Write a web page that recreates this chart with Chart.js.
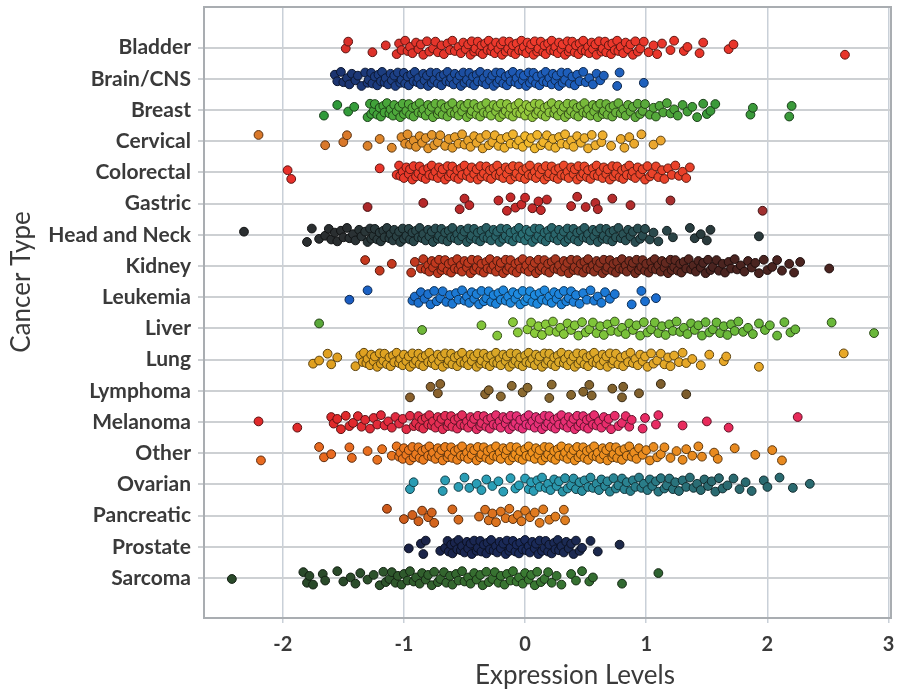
<!DOCTYPE html>
<html>
<head>
<meta charset="utf-8">
<script src="https://cdn.jsdelivr.net/npm/chart.js@4.4.0/dist/chart.umd.min.js"></script>
<style>
  html, body { margin: 0; padding: 0; background: #fff; }
</style>
</head>
<body>
<canvas id="graph" width="899" height="691"></canvas>
<script>
// categories, top to bottom
var categories = ['Bladder', 'Brain/CNS', 'Breast', 'Cervical', 'Colorectal', 'Gastric',
  'Head and Neck', 'Kidney', 'Leukemia', 'Liver', 'Lung', 'Lymphoma', 'Melanoma',
  'Other', 'Ovarian', 'Pancreatic', 'Prostate', 'Sarcoma'];

var xTicks = [-2, -1, 0, 1, 2, 3];

// expression levels, one list per cancer type
var bladder = [-1.48,-1.46,-1.26,-1.15,
  -1.06,-1.04,-1.02,-0.99,-0.97,-0.95,-0.93,-0.9,-0.88,-0.86,-0.84,-0.81,-0.79,-0.76,-0.74,-0.72,-0.69,-0.67,-0.64,-0.62,-0.6,-0.58,-0.55,-0.53,-0.51,-0.49,-0.47,
  -0.45,-0.44,-0.42,-0.41,-0.39,-0.37,-0.36,-0.35,-0.33,-0.31,-0.3,-0.28,-0.27,-0.25,-0.24,-0.22,-0.2,-0.19,-0.18,-0.16,-0.14,-0.13,-0.11,-0.1,-0.08,-0.07,-0.05,-0.03,-0.02,-0.01,0.01,0.02,0.04,0.05,0.07,0.08,0.1,0.11,0.13,0.15,0.16,0.17,0.19,0.21,0.22,0.24,0.25,0.27,0.28,0.3,0.31,0.33,0.35,0.36,0.37,0.39,0.41,0.42,0.44,0.45,0.47,0.48,0.5,0.52,0.53,0.55,0.56,0.58,0.59,0.61,0.63,0.64,0.66,0.67,0.69,0.71,0.72,0.74,0.76,0.77,0.79,0.81,0.83,0.85,0.87,0.89,0.91,
  0.93,0.95,0.98,1.02,1.06,1.09,1.13,1.2,1.23,1.31,1.34,1.44,1.47,1.68,1.72,2.64];
var brainCns = [-1.57,-1.55,-1.52,-1.5,-1.47,-1.45,-1.43,-1.4,-1.38,-1.35,
  -1.32,-1.3,-1.29,-1.27,-1.26,-1.24,-1.22,-1.21,-1.19,-1.18,-1.16,-1.15,-1.13,-1.11,-1.1,-1.08,-1.07,-1.05,-1.03,-1.02,-1.0,-0.99,-0.97,-0.96,-0.94,-0.92,-0.91,-0.89,-0.88,-0.86,-0.84,-0.83,-0.81,-0.8,-0.78,-0.77,-0.75,-0.73,-0.72,-0.7,-0.69,-0.67,-0.65,-0.64,-0.62,-0.61,-0.59,-0.58,-0.56,-0.54,-0.53,-0.51,-0.5,-0.48,-0.46,-0.45,-0.43,-0.42,-0.4,-0.39,-0.37,-0.35,-0.34,-0.32,-0.31,-0.29,-0.27,-0.26,-0.24,-0.23,-0.21,-0.2,-0.18,-0.16,-0.15,-0.13,-0.12,-0.1,-0.08,-0.07,-0.05,-0.04,-0.02,-0.01,0.01,0.03,0.04,0.06,0.07,0.09,0.1,0.12,0.14,0.15,0.17,0.18,0.2,0.22,0.23,0.25,0.26,0.28,0.3,0.31,0.33,0.35,0.37,0.39,0.41,0.43,0.45,0.48,0.5,0.53,0.56,0.59,0.62,
  0.65,0.76,0.78,0.98];
var breast = [-1.66,-1.55,-1.46,-1.41,
  -1.3,-1.28,-1.27,-1.25,-1.24,-1.22,-1.2,-1.19,-1.17,-1.16,-1.14,-1.12,-1.11,-1.09,-1.08,-1.06,-1.04,-1.03,-1.01,-1.0,-0.98,-0.96,-0.95,-0.93,-0.92,-0.9,-0.88,-0.87,-0.85,-0.84,-0.82,-0.8,-0.79,-0.77,-0.76,-0.74,-0.72,-0.71,-0.69,-0.68,-0.66,-0.64,-0.63,-0.61,-0.6,-0.58,-0.56,-0.55,-0.53,-0.52,-0.5,-0.48,-0.47,-0.45,-0.44,-0.42,-0.4,-0.39,-0.37,-0.36,-0.34,-0.32,-0.31,-0.29,-0.28,-0.26,-0.24,-0.23,-0.21,-0.2,-0.18,-0.16,-0.15,-0.13,-0.12,-0.1,-0.08,-0.07,-0.05,-0.04,-0.02,0.0,0.01,0.03,0.04,0.06,0.08,0.09,0.11,0.12,0.14,0.16,0.17,0.19,0.2,0.22,0.24,0.25,0.27,0.28,0.3,0.32,0.33,0.35,0.36,0.38,0.4,0.41,0.43,0.44,0.46,0.48,0.49,0.51,0.52,0.54,0.56,0.57,0.59,0.6,0.62,0.64,0.65,0.67,0.68,0.7,0.72,0.73,0.75,0.77,0.79,0.81,0.83,0.85,0.87,0.89,0.91,0.93,0.95,0.97,0.99,
  1.03,1.06,1.08,1.11,1.14,1.17,1.2,1.23,1.26,1.3,1.34,1.38,1.42,1.47,1.5,1.53,1.57,1.86,1.88,2.18,2.2];
var cervical = [-2.2,-1.65,-1.5,-1.47,-1.3,-1.2,-1.1,
  -1.02,-0.99,-0.97,-0.95,-0.92,-0.9,-0.87,-0.85,-0.82,-0.8,-0.77,-0.75,-0.72,-0.7,-0.66,-0.63,-0.6,-0.58,-0.55,-0.52,-0.5,-0.47,-0.45,-0.42,-0.4,-0.37,-0.35,-0.32,-0.3,-0.27,-0.25,-0.22,-0.2,-0.17,-0.15,-0.12,-0.1,-0.07,-0.05,-0.02,0.0,0.03,0.05,0.08,0.1,0.13,0.15,0.18,0.2,0.23,0.25,0.28,0.3,0.33,0.35,0.38,0.4,0.43,0.46,0.49,0.52,0.55,0.58,
  0.63,0.64,0.71,0.79,0.82,0.86,0.9,0.96,1.06,1.12];
var colorectal = [-1.96,-1.93,-1.2,
  -1.06,-1.04,-1.03,-1.01,-1.0,-0.98,-0.96,-0.95,-0.93,-0.92,-0.9,-0.88,-0.87,-0.85,-0.84,-0.82,-0.8,-0.79,-0.77,-0.76,-0.74,-0.72,-0.71,-0.69,-0.68,-0.66,-0.64,-0.63,-0.61,-0.6,-0.58,-0.56,-0.55,-0.53,-0.52,-0.5,-0.48,-0.47,-0.45,-0.44,-0.42,-0.4,-0.39,-0.37,-0.36,-0.34,-0.32,-0.31,-0.29,-0.28,-0.26,-0.24,-0.23,-0.21,-0.2,-0.18,-0.16,-0.15,-0.13,-0.12,-0.1,-0.08,-0.07,-0.05,-0.04,-0.02,0.0,0.01,0.03,0.04,0.06,0.08,0.09,0.11,0.12,0.14,0.16,0.17,0.19,0.2,0.22,0.24,0.25,0.27,0.28,0.3,0.32,0.33,0.35,0.36,0.38,0.4,0.41,0.43,0.44,0.46,0.48,0.49,0.51,0.52,0.54,0.56,0.57,0.59,0.6,0.62,0.64,0.65,0.67,0.68,0.7,0.72,0.73,0.75,0.76,0.78,0.8,0.81,0.83,0.84,0.86,0.88,0.89,0.91,0.93,0.95,0.97,0.99,1.01,1.03,1.05,1.08,1.1,1.13,1.15,1.18,1.21,1.24,1.27,1.3,1.33,1.36];
var gastric = [-1.3,-0.84,-0.54,-0.5,-0.46,-0.22,-0.15,-0.12,-0.08,-0.03,0.0,0.06,0.11,0.13,0.18,0.38,0.43,0.5,0.58,0.6,0.72,0.87,1.2,1.96];
var headNeck = [-2.32,-1.8,-1.76,-1.7,-1.65,-1.62,
  -1.6,-1.57,-1.55,-1.52,-1.5,-1.47,-1.45,-1.42,-1.4,-1.37,-1.35,-1.32,
  -1.3,-1.28,-1.27,-1.25,-1.24,-1.22,-1.2,-1.19,-1.17,-1.16,-1.14,-1.12,-1.11,-1.09,-1.08,-1.06,-1.04,-1.03,-1.01,-1.0,-0.98,-0.96,-0.95,-0.93,-0.92,-0.9,-0.88,-0.87,-0.85,-0.84,-0.82,-0.8,-0.79,-0.77,-0.76,-0.74,-0.72,-0.71,-0.69,-0.68,-0.66,-0.64,-0.63,-0.61,-0.6,-0.58,-0.56,-0.55,-0.53,-0.52,-0.5,-0.48,-0.47,-0.45,-0.44,-0.42,-0.4,-0.39,-0.37,-0.36,-0.34,-0.32,-0.31,-0.29,-0.28,-0.26,-0.24,-0.23,-0.21,-0.2,-0.18,-0.16,-0.15,-0.13,-0.12,-0.1,-0.08,-0.07,-0.05,-0.04,-0.02,0.0,0.01,0.03,0.04,0.06,0.08,0.09,0.11,0.12,0.14,0.16,0.17,0.19,0.2,0.22,0.24,0.25,0.27,0.28,0.3,0.32,0.33,0.35,0.36,0.38,0.4,0.41,0.43,0.44,0.46,0.48,0.49,0.51,0.52,0.54,0.56,0.57,0.59,0.6,0.62,0.64,0.65,0.67,0.68,0.7,0.72,0.73,0.75,0.77,0.79,0.81,0.83,0.85,0.87,0.89,0.91,0.93,0.95,0.97,0.99,
  1.03,1.06,1.1,1.17,1.22,1.36,1.4,1.45,1.5,1.53,1.93];
var kidney = [-1.32,-1.2,-1.1,-0.94,-0.91,
  -0.86,-0.84,-0.82,-0.8,-0.79,-0.77,-0.76,-0.74,-0.72,-0.71,-0.69,-0.68,-0.66,-0.64,-0.63,-0.61,-0.6,-0.58,-0.56,-0.55,-0.53,-0.52,-0.5,-0.48,-0.47,-0.45,-0.44,-0.42,-0.4,-0.39,-0.37,-0.36,-0.34,-0.32,-0.31,-0.29,-0.28,-0.26,-0.24,-0.23,-0.21,-0.2,-0.18,-0.16,-0.15,-0.13,-0.12,-0.1,-0.08,-0.07,-0.05,-0.04,-0.02,0.0,0.01,0.03,0.04,0.06,0.08,0.09,0.11,0.12,0.14,0.16,0.17,0.19,0.2,0.22,0.24,0.25,0.27,0.28,0.3,0.32,0.33,0.35,0.36,0.38,0.4,0.41,0.43,0.44,0.46,0.48,0.49,0.51,0.52,0.54,0.56,0.57,0.59,0.6,0.62,0.64,0.65,0.67,0.68,0.7,0.72,0.73,0.75,0.76,0.78,0.8,0.81,0.83,0.84,0.86,0.88,0.89,0.91,0.92,0.94,0.96,0.97,0.99,1.0,1.02,1.04,1.05,1.07,1.08,1.1,1.12,1.13,1.15,1.16,1.18,1.2,1.21,1.23,1.24,1.26,1.28,1.29,1.31,1.33,1.35,1.37,1.39,1.41,1.43,1.45,1.47,1.49,1.51,1.53,1.55,1.58,1.6,1.63,1.65,1.68,1.7,1.73,1.75,
  1.78,1.81,1.84,1.87,1.9,1.93,1.97,2.0,2.04,2.08,2.12,2.18,2.22,2.27,2.51];
var leukemia = [-1.45,-1.3,
  -0.93,-0.91,-0.88,-0.86,-0.83,-0.8,-0.78,-0.75,-0.73,-0.7,-0.68,-0.65,-0.62,-0.6,-0.57,-0.55,-0.52,-0.5,-0.48,-0.46,-0.44,-0.42,-0.4,-0.38,-0.36,-0.34,-0.32,-0.3,-0.28,-0.26,-0.24,-0.22,-0.2,-0.18,-0.16,-0.14,-0.12,-0.1,-0.08,-0.06,-0.04,-0.02,0.0,0.02,0.04,0.06,0.08,0.1,0.12,0.14,0.16,0.18,0.2,0.22,0.24,0.26,0.28,0.3,0.32,0.34,0.36,0.38,0.4,0.42,0.45,0.48,0.51,0.54,0.57,0.6,0.63,0.66,0.7,0.74,
  0.88,0.96,0.99,1.08];
var liver = [-1.7,-0.85,-0.36,-0.23,-0.1,-0.06,
  0.02,0.05,0.08,0.11,0.14,0.17,0.2,0.23,0.26,0.29,0.32,0.35,0.38,0.41,0.44,0.47,0.5,0.53,0.56,0.59,0.62,0.65,0.68,0.71,0.74,0.77,0.8,0.83,0.86,0.89,0.92,0.95,0.98,1.01,1.04,1.07,1.1,1.13,1.16,1.19,1.22,1.25,1.28,1.31,1.34,1.37,1.4,1.43,1.46,1.49,1.52,1.55,1.58,1.61,1.64,1.67,1.7,1.73,1.76,1.8,1.84,1.88,
  1.93,1.98,2.02,2.08,2.14,2.19,2.23,2.53,2.88];
var lung = [-1.75,-1.7,-1.63,-1.6,-1.55,-1.4,
  -1.36,-1.34,-1.33,-1.31,-1.3,-1.28,-1.27,-1.25,-1.24,-1.22,-1.2,-1.19,-1.17,-1.16,-1.14,-1.12,-1.11,-1.09,-1.08,-1.06,-1.04,-1.03,-1.01,-1.0,-0.98,-0.96,-0.95,-0.93,-0.92,-0.9,-0.88,-0.87,-0.85,-0.84,-0.82,-0.8,-0.79,-0.77,-0.76,-0.74,-0.72,-0.71,-0.69,-0.68,-0.66,-0.64,-0.63,-0.61,-0.6,-0.58,-0.56,-0.55,-0.53,-0.52,-0.5,-0.48,-0.47,-0.45,-0.44,-0.42,-0.4,-0.39,-0.37,-0.36,-0.34,-0.32,-0.31,-0.29,-0.28,-0.26,-0.24,-0.23,-0.21,-0.2,-0.18,-0.16,-0.15,-0.13,-0.12,-0.1,-0.08,-0.07,-0.05,-0.04,-0.02,0.0,0.01,0.03,0.04,0.06,0.08,0.09,0.11,0.12,0.14,0.16,0.17,0.19,0.2,0.22,0.24,0.25,0.27,0.28,0.3,0.32,0.33,0.35,0.36,0.38,0.4,0.41,0.43,0.44,0.46,0.48,0.49,0.51,0.52,0.54,0.56,0.57,0.59,0.6,0.62,0.64,0.65,0.67,0.68,0.7,0.72,0.73,0.75,0.77,0.79,0.81,0.83,0.85,0.87,0.89,0.91,0.93,0.95,0.97,0.99,1.01,1.04,1.06,1.09,1.12,1.15,1.18,1.2,
  1.23,1.27,1.3,1.33,1.38,1.45,1.52,1.64,1.66,1.93,2.63];
var lymphoma = [-0.95,-0.78,-0.72,-0.7,-0.33,-0.3,-0.2,-0.11,-0.02,0.02,0.2,0.22,0.38,0.48,0.53,0.55,0.72,0.8,0.81,0.94,1.12,1.33];
var melanoma = [-2.2,-1.88,
  -1.6,-1.58,-1.55,-1.52,-1.48,-1.45,-1.42,-1.38,-1.35,-1.32,-1.28,-1.25,-1.22,-1.19,-1.16,-1.13,-1.1,-1.07,-1.04,-1.01,-0.98,-0.95,-0.92,
  -0.9,-0.88,-0.87,-0.85,-0.84,-0.82,-0.8,-0.79,-0.77,-0.76,-0.74,-0.72,-0.71,-0.69,-0.68,-0.66,-0.64,-0.63,-0.61,-0.6,-0.58,-0.56,-0.55,-0.53,-0.52,-0.5,-0.48,-0.47,-0.45,-0.44,-0.42,-0.4,-0.39,-0.37,-0.36,-0.34,-0.32,-0.31,-0.29,-0.28,-0.26,-0.24,-0.23,-0.21,-0.2,-0.18,-0.16,-0.15,-0.13,-0.12,-0.1,-0.08,-0.07,-0.05,-0.04,-0.02,0.0,0.01,0.03,0.04,0.06,0.08,0.09,0.11,0.12,0.14,0.16,0.17,0.19,0.2,0.22,0.24,0.25,0.27,0.28,0.3,0.32,0.33,0.35,0.36,0.38,0.4,0.41,0.43,0.44,0.46,0.48,0.49,0.51,0.52,0.54,0.56,0.57,0.59,0.61,0.63,0.65,0.67,0.69,0.71,0.74,0.77,0.8,0.83,0.86,
  0.88,0.97,0.99,1.08,1.1,1.3,1.5,1.68,2.25];
var other = [-2.18,-1.7,-1.66,-1.6,-1.45,-1.43,-1.3,-1.22,-1.18,-1.1,
  -1.06,-1.04,-1.03,-1.01,-1.0,-0.98,-0.96,-0.95,-0.93,-0.92,-0.9,-0.88,-0.87,-0.85,-0.84,-0.82,-0.8,-0.79,-0.77,-0.76,-0.74,-0.72,-0.71,-0.69,-0.68,-0.66,-0.64,-0.63,-0.61,-0.6,-0.58,-0.56,-0.55,-0.53,-0.52,-0.5,-0.48,-0.47,-0.45,-0.44,-0.42,-0.4,-0.39,-0.37,-0.36,-0.34,-0.32,-0.31,-0.29,-0.28,-0.26,-0.24,-0.23,-0.21,-0.2,-0.18,-0.16,-0.15,-0.13,-0.12,-0.1,-0.08,-0.07,-0.05,-0.04,-0.02,0.0,0.01,0.03,0.04,0.06,0.08,0.09,0.11,0.12,0.14,0.16,0.17,0.19,0.2,0.22,0.24,0.25,0.27,0.28,0.3,0.32,0.33,0.35,0.36,0.38,0.4,0.41,0.43,0.44,0.46,0.48,0.49,0.51,0.52,0.54,0.56,0.57,0.59,0.6,0.62,0.64,0.65,0.67,0.68,0.7,0.72,0.73,0.75,0.76,0.78,0.8,0.82,0.84,0.86,0.88,0.9,0.92,0.94,0.97,1.0,1.03,1.06,1.09,1.12,
  1.15,1.2,1.25,1.3,1.33,1.38,1.43,1.46,1.56,1.59,1.73,1.9,2.04,2.12];
var ovarian = [-0.95,-0.92,-0.68,-0.66,-0.55,-0.5,-0.46,-0.4,-0.36,-0.32,-0.27,-0.22,-0.18,-0.12,-0.08,-0.05,
  0.0,0.03,0.05,0.07,0.1,0.12,0.14,0.17,0.19,0.21,0.24,0.26,0.28,0.31,0.33,0.35,0.38,0.4,0.42,0.45,0.47,0.49,0.52,0.54,0.56,0.59,0.61,0.63,0.66,0.68,0.7,0.73,0.75,0.77,0.8,0.82,0.84,0.87,0.89,0.91,0.94,0.96,0.98,1.01,1.03,1.05,1.08,1.1,1.12,1.15,1.17,1.19,1.22,1.24,1.27,1.3,1.33,1.36,1.39,1.42,1.45,
  1.48,1.51,1.54,1.57,1.6,1.63,1.67,1.72,1.77,1.82,1.87,1.97,2.0,2.1,2.21,2.35];
var pancreatic = [-1.14,-1.0,-0.93,-0.88,-0.85,-0.8,-0.77,-0.75,-0.6,-0.55,-0.38,-0.33,-0.3,-0.27,-0.24,-0.2,-0.16,-0.13,-0.1,-0.06,-0.03,0.0,0.04,0.08,0.12,0.15,0.2,0.25,0.32,0.33];
var prostate = [-0.96,-0.86,-0.84,-0.82,-0.7,
  -0.66,-0.64,-0.63,-0.61,-0.6,-0.58,-0.56,-0.55,-0.53,-0.52,-0.5,-0.48,-0.47,-0.45,-0.44,-0.42,-0.4,-0.39,-0.37,-0.36,-0.34,-0.32,-0.31,-0.29,-0.28,-0.26,-0.24,-0.23,-0.21,-0.2,-0.18,-0.16,-0.15,-0.13,-0.12,-0.1,-0.08,-0.07,-0.05,-0.04,-0.02,0.0,0.01,0.03,0.04,0.06,0.08,0.09,0.11,0.12,0.14,0.16,0.17,0.19,0.2,0.22,0.24,0.25,0.27,0.28,0.3,0.32,0.34,0.36,0.38,0.4,0.42,0.45,
  0.47,0.54,0.6,0.78];
var sarcoma = [-2.42,-1.83,-1.8,-1.78,-1.75,-1.67,-1.65,-1.55,-1.5,-1.44,-1.4,-1.36,-1.3,-1.25,
  -1.2,-1.17,-1.15,-1.12,-1.1,-1.07,-1.05,-1.02,-1.0,-0.97,-0.95,-0.92,-0.9,-0.87,-0.85,-0.82,-0.8,-0.77,-0.75,-0.72,-0.7,-0.67,-0.65,-0.62,-0.6,-0.57,-0.55,-0.52,-0.5,-0.47,-0.45,-0.42,-0.4,-0.37,-0.35,-0.32,-0.3,-0.27,-0.25,-0.22,-0.2,-0.17,-0.15,-0.12,-0.1,-0.07,-0.05,-0.02,0.0,0.03,0.05,0.08,0.1,0.13,0.16,0.19,0.22,0.26,0.3,
  0.38,0.42,0.47,0.53,0.56,0.8,1.1];

var series = [bladder, brainCns, breast, cervical, colorectal, gastric, headNeck, kidney, leukemia,
  liver, lung, lymphoma, melanoma, other, ovarian, pancreatic, prostate, sarcoma];

// vertical spread of the strip (fraction of a row), reused along each row
var jitter = [0.03,-0.19,0.15,-0.07,0.21,-0.13,0.08,-0.22,0.11,-0.02,0.18,-0.16,0.05,-0.1,0.23,-0.2,0.13];

// fill colour of each row at x = -1.5, 0 and 1.5
var rowColors = [
  ['#d9302a', '#ee3a2c', '#e8352a'],
  ['#1c3470', '#1e5cb8', '#1f64c0'],
  ['#2f9a3a', '#96ca3c', '#3a9a3a'],
  ['#d9782a', '#f2b82c', '#e8a030'],
  ['#e8302a', '#ee4a2a', '#e8402a'],
  ['#a8282a', '#c82a2a', '#a03030'],
  ['#2a2e30', '#2a6e74', '#2a3a3c'],
  ['#c8381e', '#b83a20', '#4a2420'],
  ['#1a5ac0', '#1e8ce0', '#1a60c8'],
  ['#5aa83a', '#8ccc3a', '#6ab83a'],
  ['#e0a020', '#d8a828', '#e8a828'],
  ['#8a5a2a', '#8a6a30', '#7a5a2a'],
  ['#e02a2a', '#e8307a', '#e82a5a'],
  ['#e86a20', '#f0921e', '#e88a20'],
  ['#2a9ab0', '#2aa0b8', '#2a6a70'],
  ['#c8501a', '#e07a20', '#e08a20'],
  ['#1a1e3a', '#1a2a5a', '#20283a'],
  ['#2a4a2a', '#3a7a32', '#2a5a30']
];

function hexToRgb(h) {
  return [parseInt(h.substr(1, 2), 16), parseInt(h.substr(3, 2), 16), parseInt(h.substr(5, 2), 16)];
}

function colorAt(row, x, dark) {
  var stops = rowColors[row].map(hexToRgb);
  var t = Math.max(-1, Math.min(1, x / 1.5));
  var a = t < 0 ? stops[0] : stops[1];
  var b = t < 0 ? stops[1] : stops[2];
  var f = t < 0 ? t + 1 : t;
  var k = dark ? 0.4 : 1;
  var c = a.map(function(v, i) { return Math.round((v + (b[i] - v) * f) * k); });
  return 'rgb(' + c[0] + ',' + c[1] + ',' + c[2] + ')';
}

var datasets = series.map(function(values, row) {
  return {
    label: categories[row],
    data: values.map(function(v, i) {
      return { x: v, y: row + jitter[(i + row * 5) % jitter.length] };
    }),
    pointRadius: 4.4,
    borderWidth: 1,
    backgroundColor: function(ctx) { return colorAt(ctx.datasetIndex, ctx.raw ? ctx.raw.x : 0, false); },
    borderColor: function(ctx) { return colorAt(ctx.datasetIndex, ctx.raw ? ctx.raw.x : 0, true); }
  };
});

// frame round the plot and the two axis titles
var framePlugin = {
  id: 'frame',
  beforeDatasetsDraw: function(chart) {
    var a = chart.chartArea, ctx = chart.ctx;
    ctx.save();
    ctx.strokeStyle = '#a9adb1';
    ctx.lineWidth = 2;
    ctx.strokeRect(a.left, a.top, a.right - a.left, a.bottom - a.top);
    ctx.restore();
  },
  afterDraw: function(chart) {
    var ctx = chart.ctx;
    ctx.save();
    ctx.fillStyle = '#3a3a3a';
    ctx.font = '26px Lato';
    ctx.textAlign = 'center';
    ctx.textBaseline = 'middle';
    ctx.fillText('Expression Levels', 575, 676);
    ctx.translate(22, 282);
    ctx.rotate(-Math.PI / 2);
    ctx.fillText('Cancer Type', 0, 0);
    ctx.restore();
  }
};

var ctx = document.getElementById('graph').getContext('2d');
var chart = new Chart(ctx, {
  type: 'scatter',
  data: { datasets: datasets },
  plugins: [framePlugin],
  options: {
    responsive: false,
    animation: false,
    events: [],
    layout: { padding: { top: 7, right: 8, left: 0, bottom: 0 } },
    plugins: {
      legend: { display: false },
      tooltip: { enabled: false }
    },
    scales: {
      x: {
        type: 'linear',
        min: -2.65,
        max: 3.02,
        afterBuildTicks: function(axis) { axis.ticks = xTicks.map(function(v) { return { value: v }; }); },
        afterFit: function(axis) { axis.height = 73; axis.paddingLeft = 0; axis.paddingRight = 0; },
        grid: { color: '#c9d0d8', lineWidth: 1.5, tickLength: 5 },
        border: { display: false },
        ticks: {
          color: '#3a3a3a',
          font: { family: 'Lato', size: 20, weight: 'bold' },
          padding: 10,
          callback: function(v) { return String(v); }
        }
      },
      y: {
        type: 'linear',
        reverse: true,
        min: -1.3,
        max: 18.28,
        afterBuildTicks: function(axis) { axis.ticks = categories.map(function(c, i) { return { value: i }; }); },
        afterFit: function(axis) { axis.width = 204; axis.paddingTop = 0; axis.paddingBottom = 0; },
        grid: { color: '#cdd0d3', lineWidth: 2, tickLength: 6 },
        border: { display: false },
        ticks: {
          color: '#3a3a3a',
          font: { family: 'Lato', size: 21, weight: 'bold' },
          padding: 7,
          callback: function(v) { return categories[v]; }
        }
      }
    }
  }
});
</script>
</body>
</html>
